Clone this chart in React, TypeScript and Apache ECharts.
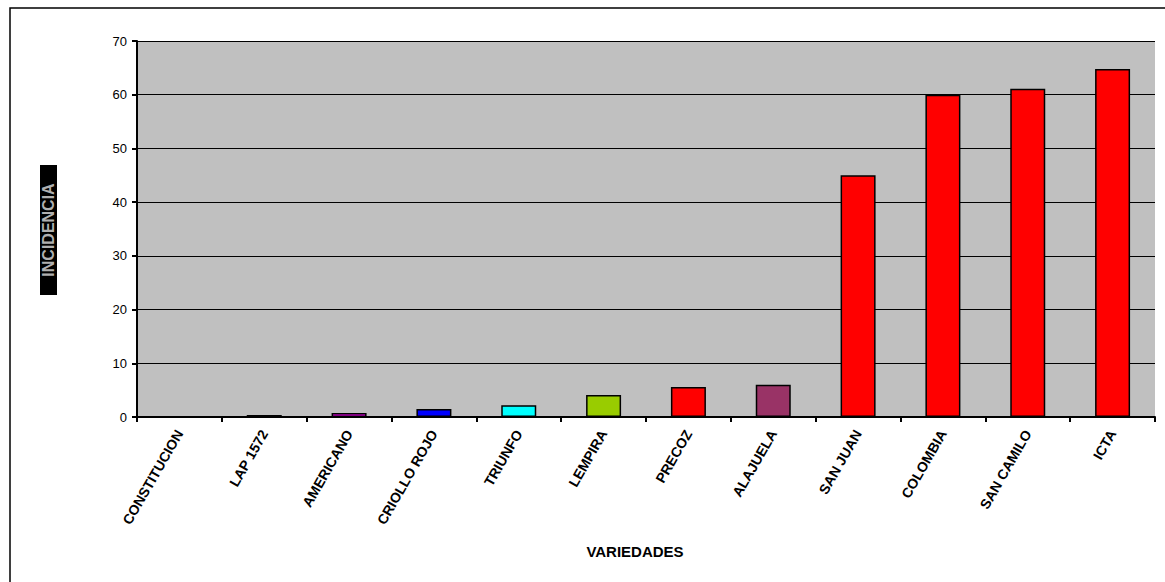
import React, { useEffect, useRef } from "react";
import * as echarts from "echarts";

const categories = [
  "CONSTITUCION",
  "LAP 1572",
  "AMERICANO",
  "CRIOLLO ROJO",
  "TRIUNFO",
  "LEMPIRA",
  "PRECOZ",
  "ALAJUELA",
  "SAN JUAN",
  "COLOMBIA",
  "SAN CAMILO",
  "ICTA",
];
const values = [0, 0.35, 0.75, 1.5, 2.2, 4.1, 5.6, 6.0, 45, 60, 61.1, 64.8];
const barColors = [
  "#000000",
  "#000000",
  "#FF00FF",
  "#0000FF",
  "#00FFFF",
  "#99CC00",
  "#FF0000",
  "#993366",
  "#FF0000",
  "#FF0000",
  "#FF0000",
  "#FF0000",
];
const yTitle = "INCIDENCIA";
const xTitle = "VARIEDADES";

export default function App() {
  const ref = useRef<HTMLDivElement>(null);
  useEffect(() => {
    if (!ref.current) return;
    const chart = echarts.init(ref.current, null, { renderer: "svg" });
    chart.setOption({
      animation: false,
      backgroundColor: "#FFFFFF",
      grid: {
        left: 137,
        top: 41,
        right: 10,
        bottom: 165,
        show: true,
        backgroundColor: "#C0C0C0",
        borderWidth: 0,
      },
      xAxis: {
        type: "category",
        data: categories,
        axisLine: { show: true, lineStyle: { color: "#000", width: 2 } },
        axisTick: { show: true, length: 5, lineStyle: { color: "#000", width: 2 } },
        axisLabel: {
          rotate: 60,
          interval: 0,
          margin: 14,
          color: "#000",
          fontFamily: "Arial, Liberation Sans",
          fontWeight: 900,
          fontSize: 14,
        },
      },
      yAxis: {
        type: "value",
        min: 0,
        max: 70,
        interval: 10,
        axisLine: { show: true, lineStyle: { color: "#000", width: 2 } },
        axisTick: { show: true, length: 5, lineStyle: { color: "#000", width: 2 } },
        axisLabel: {
          color: "#000",
          fontFamily: "Arial, Liberation Sans",
          fontSize: 13,
          margin: 10,
        },
        splitLine: { show: true, lineStyle: { color: "#000", width: 1.2 } },
      },
      series: [
        {
          type: "bar",
          barWidth: 35,
          data: values.map((v, i) => ({
            value: v,
            itemStyle: { color: barColors[i], borderColor: "#000", borderWidth: 1.5 },
          })),
        },
      ],
      graphic: [
        {
          type: "rect",
          shape: { x: 10, y: 8, width: 1170, height: 590 },
          style: { fill: "none", stroke: "#000", lineWidth: 1.5 },
          silent: true,
        },
        {
          type: "rect",
          shape: { x: 40, y: 165, width: 17, height: 130 },
          style: { fill: "#000" },
        },
        {
          type: "text",
          x: 48.5,
          y: 230,
          rotation: Math.PI / 2,
          style: {
            text: yTitle,
            fill: "#b0b0b0",
            fontFamily: "Arial, Liberation Sans",
            fontWeight: "bold",
            fontSize: 16,
            align: "center",
            verticalAlign: "middle",
          },
        },
        {
          type: "text",
          x: 635,
          y: 551,
          style: {
            text: xTitle,
            fill: "#000",
            fontFamily: "Arial, Liberation Sans",
            fontWeight: "bold",
            fontSize: 15,
            align: "center",
            verticalAlign: "middle",
          },
        },
      ],
    });
    return () => chart.dispose();
  }, []);
  return (
    <div
      ref={ref}
      style={{ position: "fixed", left: 0, top: 0, width: 1165, height: 582 }}
    />
  );
}
